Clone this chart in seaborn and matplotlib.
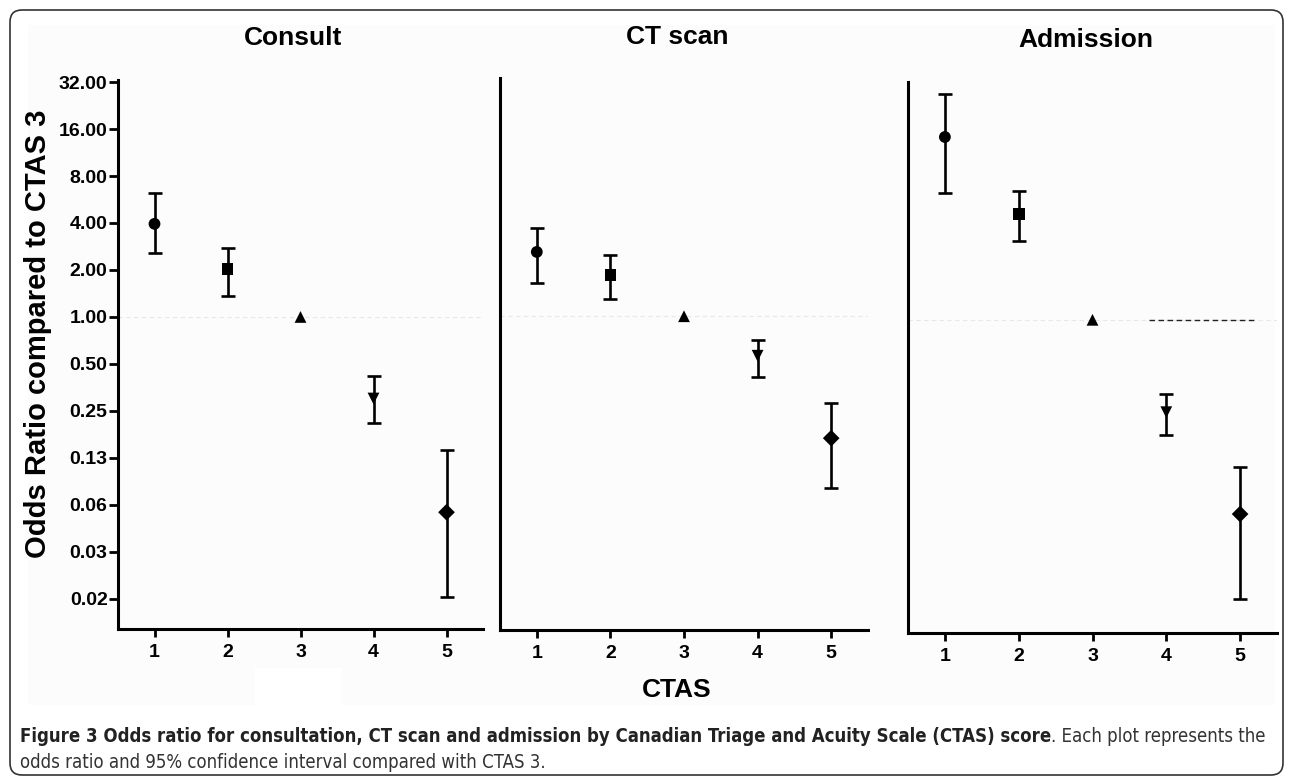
import numpy as np
import pandas as pd
import matplotlib
matplotlib.use('Agg')
import matplotlib.pyplot as plt
import matplotlib.font_manager as fm
from matplotlib.patches import FancyBboxPatch, Rectangle
import seaborn as sns

# CTAS levels and odds ratios (with 95% CI)
ctas = [1, 2, 3, 4, 5]
markers = {1: 'o', 2: 's', 3: '^', 4: 'v', 5: 'D'}

consult_or = [3.95, 2.03, 1.0, 0.30, 0.056]
consult_lo = [2.57, 1.36, 1.0, 0.21, 0.016]
consult_hi = [6.2, 2.77, 1.0, 0.42, 0.141]

ct_or = [2.57, 1.83, 1.0, 0.56, 0.167]
ct_lo = [1.63, 1.28, 1.0, 0.41, 0.080]
ct_hi = [3.66, 2.45, 1.0, 0.71, 0.28]

adm_or = [14.7, 4.73, 1.0, 0.257, 0.0575]
adm_lo = [6.45, 3.18, 1.0, 0.184, 0.0165]
adm_hi = [27.7, 6.63, 1.0, 0.336, 0.115]

panel_titles = ['Consult', 'CT scan', 'Admission']
ytick_vals = [32, 16, 8, 4, 2, 1, 0.5, 0.25, 0.125, 0.0625, 0.03125, 0.015625]
ytick_labels = ['32.00', '16.00', '8.00', '4.00', '2.00', '1.00', '0.50',
                '0.25', '0.13', '0.06', '0.03', '0.02']
ref_value = 1.0
adm_dash_span = [3.77, 5.2]

caption_bold = ('Figure 3 Odds ratio for consultation, CT scan and admission by '
                'Canadian Triage and Acuity Scale (CTAS) score')
caption_rest = '. Each plot represents the'
caption_line2 = 'odds ratio and 95% confidence interval compared with CTAS 3.'

sns.set_style('ticks')
plt.rcParams['font.family'] = ['Liberation Sans', 'DejaVu Sans']
plt.rcParams.update({'text.color': 'black', 'axes.edgecolor': 'black',
                     'xtick.color': 'black', 'ytick.color': 'black',
                     'axes.labelcolor': 'black'})

W, H = 1292, 776
fig = plt.figure(figsize=(W / 100, H / 100), dpi=100)
fig.patch.set_facecolor('white')

# outer rounded frame and light plot background
fig.patches.append(FancyBboxPatch((10, 1), 1273, 765, boxstyle='round,pad=0,rounding_size=12',
                                  transform=None, facecolor='white', edgecolor='#333333',
                                  linewidth=1.2, zorder=-10))
fig.patches.append(Rectangle((28 / W, 1 - 705 / H), 1247 / W, 680 / H, transform=fig.transFigure,
                             facecolor='#fcfcfc', edgecolor='none', zorder=-9))
fig.patches.append(Rectangle((255 / W, 1 - 705 / H), 87 / W, 37 / H, transform=fig.transFigure,
                             facecolor='white', edgecolor='none', zorder=-8))


def add_ax(left, top, right, bottom):
    return fig.add_axes([left / W, 1 - bottom / H, (right - left) / W, (bottom - top) / H])


axes = [add_ax(118, 80, 483, 629), add_ax(500, 78, 868, 630), add_ax(908, 82, 1277, 633)]
series = [(consult_or, consult_lo, consult_hi), (ct_or, ct_lo, ct_hi), (adm_or, adm_lo, adm_hi)]

for i, (ax, (orv, lo, hi)) in enumerate(zip(axes, series)):
    ax.set_facecolor('none')
    df = pd.DataFrame({'CTAS': ctas, 'OR': orv, 'lo': lo, 'hi': hi})
    ax.axhline(ref_value, color='#e8e8e8', lw=0.8, ls=(0, (4, 3)), zorder=0)
    ci = df[df['lo'] != df['hi']]
    ax.errorbar(ci['CTAS'], ci['OR'], yerr=[ci['OR'] - ci['lo'], ci['hi'] - ci['OR']],
                fmt='none', ecolor='black', elinewidth=1.9, capsize=4.8, capthick=1.9, zorder=2)
    sns.scatterplot(data=df, x='CTAS', y='OR', style='CTAS', markers=markers, color='black',
                    s=72, edgecolor='black', linewidth=0, legend=False, ax=ax, zorder=3)
    ax.set_yscale('log', base=2)
    ax.set_ylim(0.01, 33)
    ax.set_xlim(0.5, 5.5)
    ax.set_xticks(ctas)
    ax.set_xticklabels([str(c) for c in ctas], fontsize=14, fontweight='bold')
    ax.minorticks_off()
    ax.set_xlabel('')
    ax.set_ylabel('')
    sns.despine(ax=ax)
    for sp in ['left', 'bottom']:
        ax.spines[sp].set_linewidth(2.2)
    ax.tick_params(axis='x', length=6, width=2, pad=5)
    if i == 0:
        ax.set_yticks(ytick_vals)
        ax.set_yticklabels(ytick_labels, fontsize=14, fontweight='bold')
        ax.tick_params(axis='y', length=6.5, width=2, pad=1)
    else:
        ax.set_yticks([])
    if i == 2:
        ax.hlines(ref_value, adm_dash_span[0], adm_dash_span[1], color='#222222', lw=1,
                  ls=(0, (4, 2.5)), zorder=1)

# titles and axis labels
for x, y, t in zip([293, 677, 1086], [38, 37, 40], panel_titles):
    fig.text(x / W, 1 - y / H, t, ha='center', va='center', fontsize=19, fontweight='bold')
fig.text(38 / W, 1 - 334 / H, 'Odds Ratio compared to CTAS 3', rotation=90, ha='center',
         va='center', fontsize=21, fontweight='bold')
fig.text(677 / W, 1 - 690 / H, 'CTAS', ha='center', va='center', fontsize=19, fontweight='bold')

# caption in a condensed face, fitted to the frame width
names = {f.name for f in fm.fontManager.ttflist}
cap_family = 'Liberation Sans Narrow' if 'Liberation Sans Narrow' in names else 'DejaVu Sans'
renderer = fig.canvas.get_renderer()
fs = 13
t1 = fig.text(20 / W, 1 - 737 / H, caption_bold, fontsize=fs, fontweight='bold',
              family=cap_family, fontstretch='condensed', va='center', ha='left', color='#222222')
t2 = fig.text(0, 1 - 737 / H, caption_rest, fontsize=fs, family=cap_family,
              fontstretch='condensed', va='center', ha='left', color='#333333')
w1 = t1.get_window_extent(renderer).width
w2 = t2.get_window_extent(renderer).width
fs = fs * 1252 / (w1 + w2)
t1.set_fontsize(fs)
t2.set_fontsize(fs)
w1 = t1.get_window_extent(renderer).width
t2.set_x((20 + w1) / W)
fig.text(20 / W, 1 - 763 / H, caption_line2, fontsize=fs, family=cap_family,
         fontstretch='condensed', va='center', ha='left', color='#333333')

fig.savefig('out.png', dpi=100)
